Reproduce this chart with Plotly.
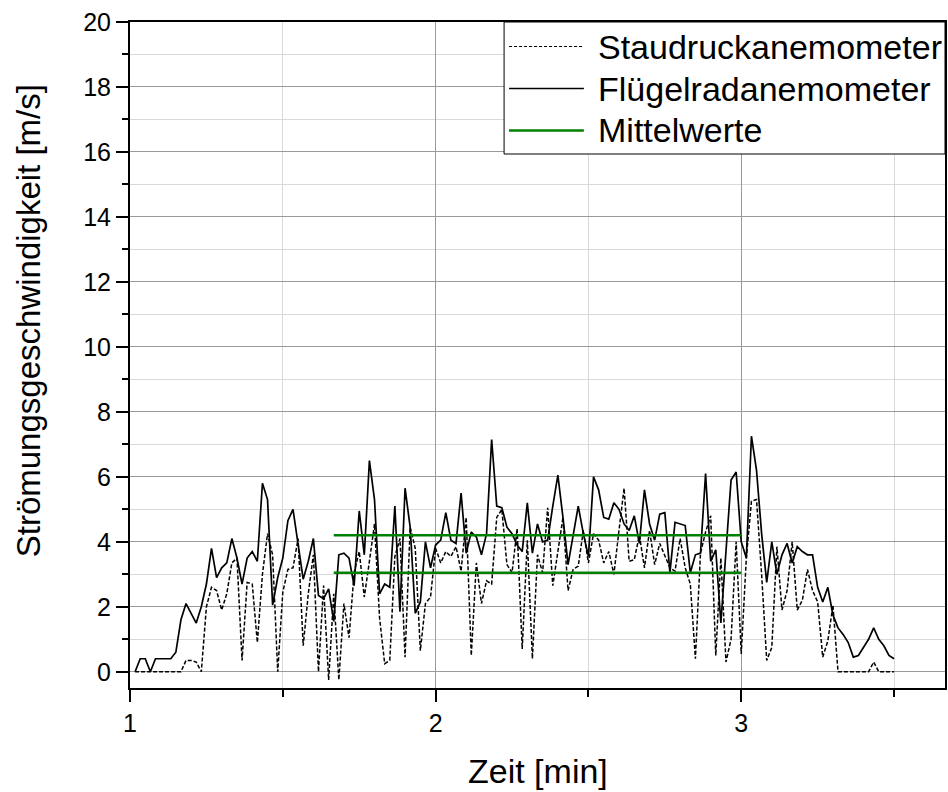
import plotly.graph_objects as go

# Messzeitpunkte in Sekunden (1-s-Raster), Achse in Minuten
sekunden = list(range(61, 211))
zeit_min = [s / 60 for s in sekunden]

# Staudruckanemometer [m/s]
staudruck = [
    0, 0, 0, 0, 0, 0, 0, 0, 0, 0,
    0.35, 0.35, 0.3, 0, 2.0, 2.6, 2.5, 1.9, 2.4, 3.35,
    3.5, 0.35, 2.75, 2.7, 0.9, 3.0, 4.25, 3.6, 0, 2.45,
    3.15, 3.2, 4.1, 0.8, 2.4, 3.6, 0, 2.65, -0.25, 2.4,
    -0.25, 2.1, 1.05, 3.05, 3.7, 2.3, 3.4, 4.55, 1.65, 0.25,
    0.35, 3.55, 4.1, 0.45, 4.45, 3.8, 0.65, 2.1, 2.3, 3.8,
    3.35, 3.7, 3.55, 3.85, 3.1, 4.75, 0.5, 3.35, 2.1, 2.8,
    2.7, 4.75, 5.0, 3.3, 3.05, 4.4, 0.7, 4.05, 0.4, 3.6,
    3.05, 5.05, 2.65, 3.7, 4.75, 2.5, 3.15, 3.25, 4.35, 3.35,
    4.25, 4.05, 3.35, 3.7, 3.0, 4.35, 5.65, 3.4, 3.45, 4.2,
    3.2, 4.35, 3.3, 3.95, 3.6, 3.2, 3.1, 4.1, 3.2, 2.7,
    0.4, 3.65, 4.3, 4.8, 0.5, 3.5, 0.3, 1.0, 4.0, 0.55,
    3.5, 5.25, 5.3, 3.0, 0.35, 0.75, 3.85, 1.9, 2.5, 4.0,
    1.9, 2.2, 3.15, 2.5, 2.15, 0.45, 0.95, 2.05, 0, 0,
    0, 0, 0, 0, 0, 0.3, 0, 0, 0, 0,
]

# Flügelradanemometer [m/s]
fluegelrad = [
    0, 0.4, 0.4, 0, 0.4, 0.4, 0.4, 0.4, 0.6, 1.6,
    2.1, 1.8, 1.5, 2.0, 2.7, 3.8, 2.9, 3.2, 3.35, 4.1,
    3.5, 2.7, 3.5, 3.7, 3.4, 5.8, 5.3, 2.05, 2.9, 3.5,
    4.65, 5.0, 3.95, 2.85, 3.4, 4.1, 2.35, 2.25, 2.55, 1.55,
    3.6, 3.65, 3.5, 2.65, 4.95, 3.6, 6.5, 5.3, 2.4, 2.7,
    2.6, 5.1, 1.85, 5.65, 4.45, 1.8, 2.15, 4.0, 3.2, 3.9,
    4.05, 4.9, 4.05, 3.95, 5.5, 3.65, 4.3, 4.15, 3.6, 4.25,
    7.15, 5.1, 5.05, 4.45, 4.25, 3.9, 3.7, 5.2, 3.65, 4.55,
    4.0, 4.05, 5.1, 6.05, 4.75, 3.3, 4.2, 5.1, 4.25, 3.55,
    6.0, 5.6, 4.75, 4.7, 5.2, 5.0, 4.55, 4.35, 4.8, 3.95,
    5.6, 4.55, 4.05, 4.85, 4.9, 3.05, 4.6, 4.55, 4.5, 3.05,
    3.6, 3.65, 6.1, 3.4, 3.75, 1.5, 3.7, 5.9, 6.15, 4.0,
    3.5, 7.25, 6.2, 4.25, 2.75, 4.0, 3.0, 3.6, 3.95, 3.35,
    3.85, 3.7, 3.6, 3.6, 2.6, 2.15, 2.6, 1.75, 1.35, 1.15,
    0.9, 0.45, 0.5, 0.75, 1.0, 1.35, 1.0, 0.8, 0.5, 0.4,
]

# Mittelwerte im Auswertezeitraum
mittel_zeitraum = [100 / 60, 180 / 60]
mittel_fluegelrad = 4.2
mittel_staudruck = 3.05

legend_labels = ["Staudruckanemometer", "Flügelradanemometer", "Mittelwerte"]

FONT = "Liberation Sans, Arial, sans-serif"
GRUEN = "#008000"
W, H = 948, 792
ML, MR, MT, MB = 130, 1, 22, 104
PW, PH = W - ML - MR, H - MT - MB


def px_x(p):
    return (p - ML) / PW


def px_y(p):
    return (H - MB - p) / PH


fig = go.Figure()

fig.add_trace(go.Scatter(
    x=zeit_min, y=staudruck, mode="lines", name=legend_labels[0],
    line=dict(color="black", width=1.5, dash="4px,2px"), showlegend=False,
))
fig.add_trace(go.Scatter(
    x=zeit_min, y=fluegelrad, mode="lines", name=legend_labels[1],
    line=dict(color="black", width=1.7), showlegend=False,
))
for wert in (mittel_fluegelrad, mittel_staudruck):
    fig.add_trace(go.Scatter(
        x=mittel_zeitraum, y=[wert, wert], mode="lines", name=legend_labels[2],
        line=dict(color=GRUEN, width=2.5), showlegend=False,
    ))

achse = dict(
    showline=True, linecolor="black", linewidth=2, mirror=True,
    ticks="outside", ticklen=12, tickwidth=2, tickcolor="black",
    showgrid=True, gridcolor="#9a9a9a", gridwidth=1,
    zeroline=False,
    tickfont=dict(family=FONT, size=25, color="black"),
)

fig.update_xaxes(
    **achse, range=[1, 3.6667], tick0=1, dtick=1,
    minor=dict(dtick=0.5, ticks="outside", ticklen=7, tickwidth=2,
               tickcolor="black", showgrid=True, gridcolor="#d9d9d9", gridwidth=1),
)
fig.update_yaxes(
    **achse, range=[-0.5, 20], tick0=0, dtick=2,
    minor=dict(dtick=1, ticks="outside", ticklen=6, tickwidth=2,
               tickcolor="black", showgrid=True, gridcolor="#d9d9d9", gridwidth=1),
)

# Achsentitel
fig.add_annotation(
    text="Zeit [min]", xref="paper", yref="paper",
    x=0.5, y=px_y(771), xanchor="center", yanchor="middle",
    showarrow=False, font=dict(family=FONT, size=34, color="black"),
)
fig.add_annotation(
    text="Strömungsgeschwindigkeit [m/s]", xref="paper", yref="paper",
    x=px_x(28), y=px_y(321), xanchor="center", yanchor="middle", textangle=-90,
    showarrow=False, font=dict(family=FONT, size=33, color="black"),
)

# Legende
fig.add_shape(
    type="rect", xref="paper", yref="paper",
    x0=px_x(505), x1=1, y0=px_y(154), y1=1,
    fillcolor="white", line=dict(color="black", width=1), layer="above",
)
legend_styles = [
    dict(color="black", width=1.2, dash="3px,2px"),
    dict(color="black", width=1.5),
    dict(color=GRUEN, width=2.5),
]
for k, (label, stil) in enumerate(zip(legend_labels, legend_styles)):
    yk = px_y(46.5 + 42 * k)
    fig.add_shape(
        type="line", xref="paper", yref="paper",
        x0=px_x(510), x1=px_x(585), y0=yk, y1=yk, line=stil, layer="above",
    )
    fig.add_annotation(
        text=label, xref="paper", yref="paper", x=px_x(597), y=yk,
        xanchor="left", yanchor="middle", showarrow=False,
        font=dict(family=FONT, size=34, color="black"),
    )

fig.update_layout(
    width=W, height=H,
    margin=dict(l=ML, r=MR, t=MT, b=MB, pad=0),
    paper_bgcolor="white", plot_bgcolor="white",
    showlegend=False,
)

fig.write_html("out.html")
